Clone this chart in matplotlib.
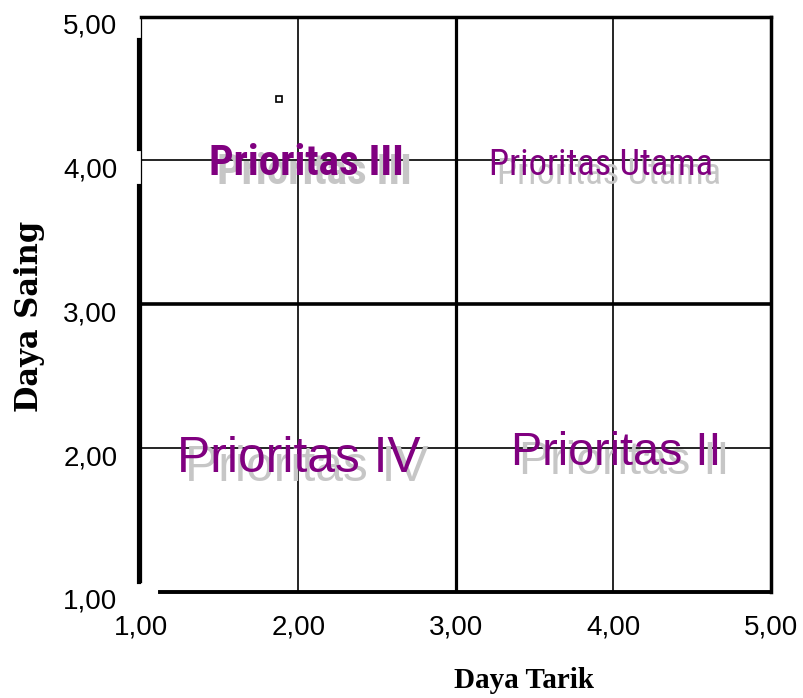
import matplotlib
matplotlib.use("Agg")
import matplotlib.pyplot as plt
from matplotlib.transforms import offset_copy, ScaledTranslation
from matplotlib import font_manager
from matplotlib.font_manager import FontProperties

# ---- data ----
x_ticks = [1, 2, 3, 4, 5]
y_ticks = [1, 2, 3, 4, 5]
x_tick_labels = ["1,00", "2,00", "3,00", "4,00", "5,00"]
y_tick_labels = ["1,00", "2,00", "3,00", "4,00", "5,00"]
x_label = "Daya Tarik"
y_label = "Daya Saing"
quadrant_names = ["Prioritas III", "Prioritas Utama", "Prioritas IV", "Prioritas II"]
quadrant_x = [2.05, 3.92, 2.00, 4.02]
quadrant_y = [3.90, 3.90, 1.837, 1.88]
point_x = [1.876]
point_y = [4.43]
divider_x = 3.0
divider_y = 3.0
minor_lines = [2.0, 4.0]


def find_condensed(bold):
    cands = []
    for f in font_manager.fontManager.ttflist:
        fn = f.fname.lower()
        is_cond = ("narrow" in fn or "condensed" in fn or
                   f.stretch in ("condensed", "semi-condensed", "extra-condensed", "ultra-condensed"))
        if not is_cond:
            continue
        if "italic" in fn or "oblique" in fn or f.style != "normal":
            continue
        w = f.weight if isinstance(f.weight, int) else (700 if "bold" in str(f.weight) else 400)
        if bold and w < 600:
            continue
        if not bold and w >= 600:
            continue
        if "light" in fn or "thin" in fn or "black" in fn or "medium" in fn or "semibold" in fn:
            continue
        rank = 5
        for i, key in enumerate(["liberationsansnarrow", "liberation", "arialn", "roboto", "opensans", "dejavusans", "noto"]):
            if key in fn.replace("-", "").replace("_", ""):
                rank = i
                break
        cands.append((rank, f.fname))
    cands.sort()
    return cands[0][1] if cands else None


cond_reg = find_condensed(False)
cond_bold = find_condensed(True)
fp_iii = FontProperties(fname=cond_bold) if cond_bold else FontProperties(family="Liberation Sans", weight="bold")
fp_utama = FontProperties(fname=cond_reg) if cond_reg else FontProperties(family="Liberation Sans")
fp_iv = FontProperties(family="Liberation Sans")
fp_ii = FontProperties(family="Liberation Sans")
fonts = [fp_iii, fp_utama, fp_iv, fp_ii]
target_width_px = [195, 224, 243, 210]

fig = plt.figure(figsize=(8.04, 6.98), dpi=100)
ax = fig.add_axes([141/804, 1 - 592/698, 630/804, 575.5/698])
ax.set_xlim(1, 5)
ax.set_ylim(1, 5)
for s in ax.spines.values():
    s.set_visible(False)

# grid lines
for v in minor_lines:
    ax.axvline(v, color="black", lw=1.2, zorder=1)
    ax.axhline(v, color="black", lw=1.2, zorder=1)
ax.axvline(divider_x, color="black", lw=2.3, zorder=1)
ax.axhline(divider_y, color="black", lw=2.6, zorder=1)

# frame
ax.plot([1, 5], [5, 5], color="black", lw=2.5, clip_on=False, solid_capstyle="projecting")
ax.plot([5, 5], [1, 5], color="black", lw=2.5, clip_on=False, solid_capstyle="projecting")
ax.plot([1.12, 5], [1, 1], color="black", lw=2.8, clip_on=False, solid_capstyle="projecting")
ax.plot([1, 1], [1.07, 5], color="black", lw=0.9, clip_on=False)
left_tr = offset_copy(ax.transData, fig=fig, x=-1.5, y=0, units="dots")
ax.plot([1, 1], [1.07, 3.82], color="black", lw=3.0, clip_on=False, transform=left_tr)
ax.plot([1, 1], [4.08, 4.84], color="black", lw=3.0, clip_on=False, transform=left_tr)

# small point
ax.plot(point_x, point_y, marker="s", ms=4, mfc="white", mec="black", mew=1.2, ls="none", zorder=5)

# quadrant labels with shadow
shadow_tr = offset_copy(ax.transData, fig=fig, x=8, y=-9, units="dots")
pairs = []
for name, qx, qy, fp in zip(quadrant_names, quadrant_x, quadrant_y, fonts):
    fp = fp.copy()
    fp.set_size(30)
    t_sh = ax.text(qx, qy, name, transform=shadow_tr, color="#c6c6c6", ha="center", va="baseline",
                   zorder=2, fontproperties=fp)
    t = ax.text(qx, qy, name, color="#800080", ha="center", va="baseline", zorder=3, fontproperties=fp)
    pairs.append((t, t_sh))

fig.canvas.draw()
renderer = fig.canvas.get_renderer()
for (t, t_sh), tw in zip(pairs, target_width_px):
    w = t.get_window_extent(renderer).width
    size = 30 * tw / w
    t.set_fontsize(size)
    t_sh.set_fontsize(size)

# ticks
ax.set_xticks(x_ticks)
ax.set_xticklabels(x_tick_labels, family="Liberation Sans", size=20)
ax.set_yticks(y_ticks)
ax.set_yticklabels(y_tick_labels, family="Liberation Sans", size=20)
ax.tick_params(axis="x", length=0, pad=16.5)
ax.tick_params(axis="y", length=0, pad=17)
for lab in ax.get_yticklabels():
    lab.set_transform(lab.get_transform() + ScaledTranslation(0, -7/100, fig.dpi_scale_trans))

# axis labels
ax.set_xlabel(x_label, family="Liberation Serif", weight="bold", size=21)
ax.xaxis.set_label_coords((524 - 141) / 630, -(680 - 592) / 575.5)
ax.xaxis.label.set_va("center")
ax.set_ylabel(y_label, family="DejaVu Serif", weight="bold", size=22)
ax.yaxis.set_label_coords((30 - 141) / 630, (592 - 316) / 575.5)
ax.yaxis.label.set_va("center")

fig.savefig("out.png", dpi=100)
